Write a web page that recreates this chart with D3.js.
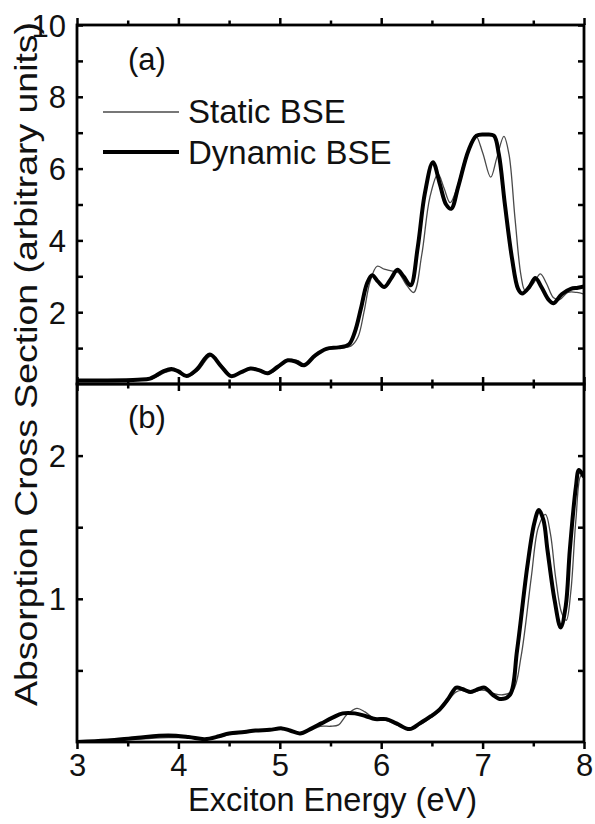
<!DOCTYPE html>
<html>
<head>
<meta charset="utf-8">
<script src="https://cdn.jsdelivr.net/npm/d3@7"></script>
<style>
  html, body { margin: 0; padding: 0; background: #fff; }
  svg { display: block; }
  text { font-family: "Liberation Sans", Arial, Helvetica, sans-serif; fill: #111; }
</style>
</head>
<body>
<svg id="chart" width="595" height="824"></svg>
<script>
// Energy axis (eV) shared by both panels
const xTicks = [3, 3.5, 4, 4.5, 5, 5.5, 6, 6.5, 7, 7.5, 8];
const xLabels = [3, 4, 5, 6, 7, 8];

// Panel (a): [energy, cross section]
const staticA = [
  [3.00,0.08],[3.30,0.09],[3.60,0.11],[3.74,0.14],[3.87,0.32],[3.95,0.38],[4.02,0.32],[4.10,0.22],
  [4.20,0.40],[4.32,0.78],[4.43,0.50],[4.53,0.22],[4.63,0.33],[4.72,0.42],[4.81,0.37],[4.90,0.30],
  [5.00,0.48],[5.10,0.68],[5.18,0.65],[5.25,0.55],[5.36,0.82],[5.47,0.98],[5.60,1.00],[5.70,1.05],
  [5.77,1.30],[5.83,2.00],[5.89,2.85],[5.96,3.28],[6.03,3.20],[6.10,3.15],[6.17,3.10],[6.24,2.80],
  [6.32,2.55],[6.40,3.60],[6.48,5.20],[6.56,5.85],[6.62,5.45],[6.68,5.05],[6.74,5.40],[6.83,6.30],
  [6.93,6.92],[7.00,6.45],[7.08,5.76],[7.14,6.30],[7.21,6.90],[7.26,6.40],[7.32,4.60],[7.38,3.00],
  [7.42,2.60],[7.50,2.80],[7.57,3.07],[7.63,2.80],[7.70,2.40],[7.76,2.35],[7.84,2.55],[7.93,2.55],
  [8.00,2.50]
];
const dynamicA = [
  [3.00,0.10],[3.30,0.10],[3.60,0.12],[3.72,0.15],[3.85,0.35],[3.93,0.42],[4.00,0.35],[4.08,0.22],
  [4.18,0.40],[4.31,0.82],[4.42,0.50],[4.52,0.22],[4.62,0.33],[4.71,0.43],[4.80,0.38],[4.88,0.30],
  [4.98,0.48],[5.08,0.66],[5.16,0.62],[5.24,0.52],[5.35,0.80],[5.46,0.98],[5.58,1.02],[5.68,1.10],
  [5.74,1.45],[5.80,2.10],[5.86,2.80],[5.91,3.03],[5.97,2.85],[6.03,2.70],[6.10,2.95],[6.16,3.18],
  [6.22,3.00],[6.29,2.75],[6.36,3.80],[6.43,5.30],[6.51,6.18],[6.58,5.55],[6.64,5.00],[6.69,4.88],
  [6.76,5.50],[6.86,6.50],[6.94,6.92],[7.03,6.95],[7.11,6.92],[7.16,6.40],[7.22,5.00],[7.29,3.50],
  [7.35,2.65],[7.39,2.52],[7.46,2.70],[7.52,2.95],[7.58,2.70],[7.65,2.35],[7.70,2.25],[7.78,2.50],
  [7.87,2.65],[7.94,2.68],[8.00,2.72]
];

// Panel (b): [energy, cross section]
const staticB = [
  [3.00,0.00],[3.30,0.01],[3.60,0.02],[3.90,0.03],[4.10,0.03],[4.26,0.02],[4.40,0.035],[4.50,0.05],
  [4.65,0.065],[4.76,0.075],[4.90,0.08],[5.02,0.09],[5.10,0.08],[5.20,0.06],[5.30,0.08],[5.40,0.11],
  [5.50,0.11],[5.58,0.12],[5.66,0.19],[5.76,0.235],[5.84,0.21],[5.94,0.16],[6.05,0.15],[6.15,0.12],
  [6.28,0.09],[6.38,0.12],[6.49,0.17],[6.58,0.22],[6.66,0.29],[6.74,0.35],[6.80,0.36],[6.88,0.34],
  [6.96,0.36],[7.02,0.36],[7.10,0.34],[7.20,0.33],[7.30,0.36],[7.38,0.60],[7.48,1.15],[7.55,1.50],
  [7.62,1.59],[7.67,1.45],[7.72,1.15],[7.78,0.90],[7.825,0.85],[7.87,1.05],[7.92,1.55],[7.97,1.86],
  [8.00,1.85]
];
const dynamicB = [
  [3.00,0.00],[3.30,0.01],[3.60,0.03],[3.90,0.045],[4.10,0.035],[4.26,0.02],[4.40,0.04],[4.50,0.06],
  [4.65,0.07],[4.76,0.08],[4.90,0.085],[5.02,0.095],[5.10,0.08],[5.20,0.06],[5.30,0.09],[5.41,0.13],
  [5.52,0.17],[5.62,0.20],[5.74,0.20],[5.85,0.18],[5.94,0.16],[6.05,0.16],[6.15,0.13],[6.28,0.09],
  [6.38,0.13],[6.49,0.18],[6.58,0.23],[6.66,0.30],[6.74,0.38],[6.80,0.37],[6.88,0.35],[6.96,0.37],
  [7.02,0.38],[7.10,0.33],[7.18,0.30],[7.27,0.33],[7.34,0.64],[7.44,1.22],[7.51,1.53],[7.555,1.62],
  [7.60,1.55],[7.64,1.34],[7.71,0.99],[7.77,0.80],[7.82,0.95],[7.86,1.34],[7.92,1.78],[7.95,1.90],
  [8.00,1.85]
];

const yTicksA = [1, 2, 3, 4, 5, 6, 7, 8, 9, 10];
const yLabelsA = [2, 4, 6, 8, 10];
const yTicksB = [0.5, 1, 1.5, 2];
const yLabelsB = [1, 2];

const seriesNames = ["Static BSE", "Dynamic BSE"];

const svg = d3.select("#chart");
const plotLeft = 77, plotRight = 584, plotTop = 25, plotMid = 384, plotBottom = 742;

const x = d3.scaleLinear().domain([3, 8]).range([plotLeft, plotRight]);
const yA = d3.scaleLinear().domain([0, 10]).range([plotMid, plotTop]);
const yB = d3.scaleLinear().domain([0, 2.5]).range([plotBottom, plotMid]);

const styles = {
  stat: { stroke: "#4a4a4a", width: 1.3 },
  dyn:  { stroke: "#000", width: 4 }
};

function panel(id, y, y0, y1, yTicks, yLabels, curves, tag, tagY) {
  const g = svg.append("g");
  svg.append("clipPath").attr("id", id)
    .append("rect").attr("x", plotLeft).attr("y", y1).attr("width", plotRight - plotLeft).attr("height", y0 - y1);

  const line = d3.line().x(d => x(d[0])).y(d => y(d[1])).curve(d3.curveCatmullRom.alpha(0.5));
  curves.forEach(c => {
    g.append("path").datum(c.data)
      .attr("clip-path", `url(#${id})`)
      .attr("fill", "none")
      .attr("stroke", c.style.stroke)
      .attr("stroke-width", c.style.width)
      .attr("stroke-linejoin", "round")
      .attr("d", line);
  });

  const minor = xTicks.filter(v => !Number.isInteger(v));
  const major = xTicks.filter(v => Number.isInteger(v));
  // inward ticks on top and bottom edges
  [[y0, -1], [y1, 1]].forEach(([yy, dir]) => {
    g.append("g").attr("transform", `translate(0,${yy})`)
      .call(d3.axisBottom(x).tickValues(major).tickSize(dir * -7).tickFormat(""))
      .call(a => a.select(".domain").remove());
    g.append("g").attr("transform", `translate(0,${yy})`)
      .call(d3.axisBottom(x).tickValues(minor).tickSize(dir * -4.5).tickFormat(""))
      .call(a => a.select(".domain").remove());
  });
  // inward ticks on left (labelled) and right edges
  g.append("g").attr("transform", `translate(${plotLeft},0)`)
    .call(d3.axisLeft(y).tickValues(yTicks).tickSize(-6).tickPadding(11)
      .tickFormat(v => yLabels.includes(v) ? v : ""))
    .call(a => a.select(".domain").remove())
    .call(a => a.selectAll("text").attr("font-size", 31).attr("dy", "0.36em").attr("fill", "#111"));
  g.append("g").attr("transform", `translate(${plotRight},0)`)
    .call(d3.axisRight(y).tickValues(yTicks).tickSize(-6).tickFormat(""))
    .call(a => a.select(".domain").remove());
  g.selectAll(".tick line").attr("stroke", "#000").attr("stroke-width", 2.5);

  g.append("rect").attr("x", plotLeft).attr("y", y1).attr("width", plotRight - plotLeft).attr("height", y0 - y1)
    .attr("fill", "none").attr("stroke", "#000").attr("stroke-width", 2.8);

  g.append("text").attr("x", 128).attr("y", tagY).attr("font-size", 31).text(tag);
  return g;
}

panel("clipA", yA, plotMid, plotTop, yTicksA, yLabelsA,
  [{ data: staticA, style: styles.stat }, { data: dynamicA, style: styles.dyn }], "(a)", 70);
panel("clipB", yB, plotBottom, plotMid, yTicksB, yLabelsB,
  [{ data: staticB, style: styles.stat }, { data: dynamicB, style: styles.dyn }], "(b)", 428);

// x tick labels under the lower panel
svg.append("g").attr("transform", `translate(0,${plotBottom})`)
  .call(d3.axisBottom(x).tickValues(xLabels).tickSize(0).tickPadding(12).tickFormat(d3.format("d")))
  .call(a => a.select(".domain").remove())
  .call(a => a.selectAll("text").attr("font-size", 31).attr("fill", "#111"));

// axis titles
svg.append("text").attr("x", (plotLeft + plotRight) / 2 + 2).attr("y", 811)
  .attr("text-anchor", "middle").attr("font-size", 32.5).text("Exciton Energy (eV)");
svg.append("text").attr("transform", "translate(37,364) rotate(-90)")
  .attr("text-anchor", "middle").attr("font-size", 31)
  .attr("textLength", 684).attr("lengthAdjust", "spacingAndGlyphs")
  .text("Absorption Cross Section (arbitrary units)");

// legend
const legend = svg.append("g");
[[styles.stat, 112, 123], [styles.dyn, 152, 164]].forEach(([s, ly, ty], i) => {
  legend.append("line").attr("x1", 103).attr("x2", 179).attr("y1", ly).attr("y2", ly)
    .attr("stroke", s.stroke).attr("stroke-width", s.width);
  legend.append("text").attr("x", 188).attr("y", ty).attr("font-size", 33).text(seriesNames[i]);
});
</script>
</body>
</html>
